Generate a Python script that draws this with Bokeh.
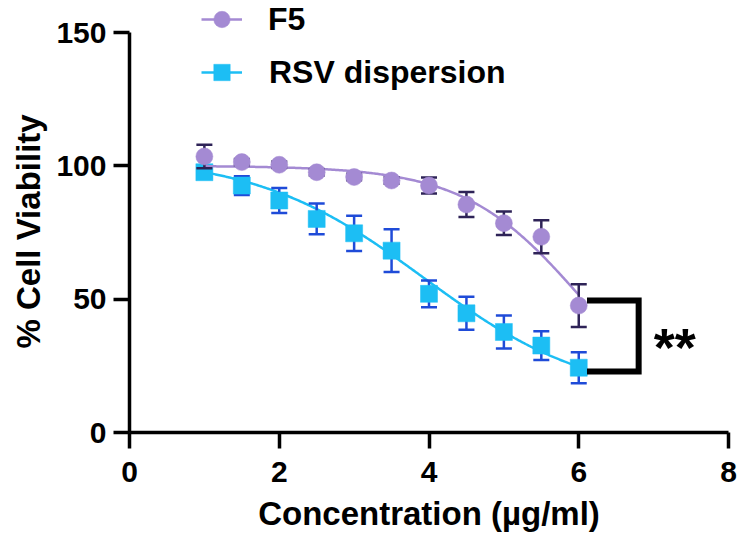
import numpy as np
from bokeh.plotting import figure
from bokeh.models import Range1d, FixedTicker, Legend, LegendItem, Title
from bokeh.embed import file_html
from bokeh.resources import INLINE
from bokeh.core.properties import value

# ---------------- data ----------------
concentration = [1, 1.5, 2, 2.5, 3, 3.5, 4, 4.5, 5, 5.5, 6]
f5_mean = [103.5, 101.4, 100.4, 97.6, 95.8, 94.5, 92.6, 85.5, 78.5, 73.4, 47.6]
f5_err = [4.4, 1.2, 1.2, 1.2, 1.2, 1.2, 3.0, 4.7, 4.4, 6.2, 8.0]
rsv_mean = [97.6, 92.6, 87.0, 80.1, 74.7, 68.2, 52.0, 44.7, 37.7, 32.6, 24.3]
rsv_err = [2.0, 3.5, 4.7, 5.8, 6.6, 8.0, 5.0, 6.2, 6.2, 5.4, 5.8]

# fitted dose-response curve parameters (top, bottom, logIC50, hill slope)
f5_fit = [100.0, 0.0, 6.05, 0.55]
rsv_fit = [104.0, 12.0, 3.93, 0.385]

x_ticks = [0, 2, 4, 6, 8]
y_ticks = [0, 50, 100, 150]
series_labels = ["F5", "RSV dispersion"]
x_title = "Concentration (µg/ml)"
y_title = "% Cell Viability"
sig_label = "**"
sig_bracket_x = [6.11, 6.8]
sig_bracket_y = [49.5, 22.9]

# ---------------- styles ----------------
FONT = "Liberation Sans"
F5_COLOR = "#A48AD3"
F5_ERR_COLOR = "#2E2357"
RSV_COLOR = "#1CBEF4"
RSV_ERR_COLOR = "#1F4BD8"


def logistic(x, top, bottom, logic50, hill):
    return bottom + (top - bottom) / (1.0 + 10.0 ** ((x - logic50) * hill))


p = figure(width=740, height=542,
           x_range=Range1d(0, 8), y_range=Range1d(0, 162),
           output_backend="svg", toolbar_location=None,
           min_border_left=125, min_border_right=12,
           min_border_top=0, min_border_bottom=110)

p.xgrid.visible = False
p.ygrid.visible = False
p.outline_line_color = None
p.background_fill_color = "white"

xs = np.linspace(concentration[0], concentration[-1], 300)


def draw_series(mean, err, fit, color, err_color, marker):
    lower = [m - e for m, e in zip(mean, err)]
    upper = [m + e for m, e in zip(mean, err)]
    curve = p.line(xs, logistic(xs, *fit), line_color=color, line_width=2.5)
    p.segment(x0=concentration, y0=lower, x1=concentration, y1=upper,
              line_color=err_color, line_width=2.5)
    p.scatter(concentration, upper, marker="dash", size=16,
              line_color=err_color, line_width=2.5)
    p.scatter(concentration, lower, marker="dash", size=16,
              line_color=err_color, line_width=2.5)
    pts = p.scatter(concentration, mean, marker=marker, size=17,
                    fill_color=color, line_color=color, line_width=0.5)
    return curve, pts


rsv_curve, rsv_pts = draw_series(rsv_mean, rsv_err, rsv_fit, RSV_COLOR, RSV_ERR_COLOR, "square")
f5_curve, f5_pts = draw_series(f5_mean, f5_err, f5_fit, F5_COLOR, F5_ERR_COLOR, "circle")

# significance bracket
bx0, bx1 = sig_bracket_x
by0, by1 = sig_bracket_y
p.line([bx0, bx1, bx1, bx0], [by0, by0, by1, by1], line_color="black",
       line_width=6, line_join="miter")
p.text(x=[bx1], y=[(by0 + by1) / 2], text=[sig_label],
       text_font=value(FONT), text_font_style="bold", text_font_size="54px",
       text_align="center", text_baseline="middle", x_offset=36, y_offset=11,
       text_color="black")

# axes
for ax, ticks, bounds in ((p.xaxis[0], x_ticks, (0, 8)), (p.yaxis[0], y_ticks, (0, 150))):
    ax.ticker = FixedTicker(ticks=ticks)
    ax.bounds = bounds
    ax.axis_line_width = 3.5
    ax.axis_line_color = "black"
    ax.major_tick_line_width = 3.5
    ax.major_tick_line_color = "black"
    ax.major_tick_out = 16
    ax.major_tick_in = 0
    ax.minor_tick_line_color = None
    ax.major_label_text_font = FONT
    ax.major_label_text_font_style = "bold"
    ax.major_label_text_font_size = "30px"
    ax.major_label_text_color = "black"
    ax.axis_label_text_font = FONT
    ax.axis_label_text_font_style = "bold"
    ax.axis_label_text_font_size = "33px"
    ax.axis_label_text_color = "black"

p.xaxis.axis_label = x_title
p.xaxis.major_label_standoff = 13
p.xaxis.axis_label_standoff = 10
p.yaxis.major_label_standoff = 7

# y-axis title as a side title, anchored so it sits over the 0-150 axis span
y_title_obj = Title(text=y_title, align="left", offset=84, standoff=14,
                    text_font=FONT, text_font_style="bold",
                    text_font_size="33px", text_color="black")
p.add_layout(y_title_obj, "left")

# legends (one per entry to match the reference offsets)
def make_legend(label, renderers, loc, standoff):
    leg = Legend(items=[LegendItem(label=label, renderers=renderers)],
                 location=loc, orientation="vertical",
                 label_text_font=FONT, label_text_font_style="bold",
                 label_text_font_size="32px", label_text_color="black",
                 glyph_width=41, glyph_height=42, label_height=36,
                 label_standoff=standoff, padding=0, margin=0, spacing=0,
                 border_line_alpha=0, background_fill_alpha=0)
    p.add_layout(leg, "center")


make_legend(series_labels[0], [f5_curve, f5_pts], (72, 392), 26)
make_legend(series_labels[1], [rsv_curve, rsv_pts], (72, 339), 27)

open("out.html", "w").write(file_html(p, INLINE))
